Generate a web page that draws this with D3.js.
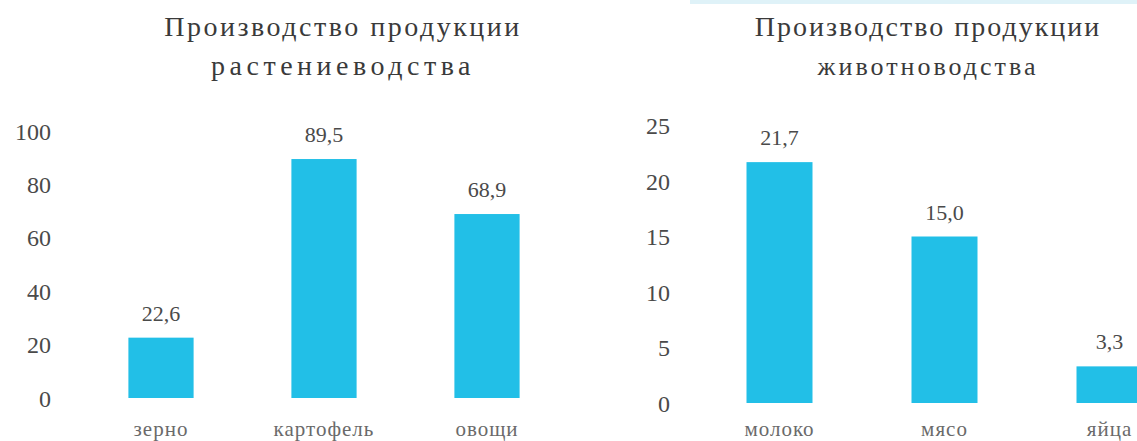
<!DOCTYPE html>
<html lang="ru">
<head>
<meta charset="utf-8">
<title>Производство продукции</title>
<script src="https://cdn.jsdelivr.net/npm/d3@7"></script>
<style>
  body { margin: 0; background: #fff; }
  svg text { font-family: "Liberation Serif", "DejaVu Serif", serif; }
  .title { fill: #3a3a3a; }
  .tick text { fill: #4a4a4a; }
  .value { fill: #4a4a4a; }
  .cat { fill: #6a6a6a; }
</style>
</head>
<body>
<script>
// data
var plantCategories = ["зерно", "картофель", "овощи"];
var plantValues = [22.6, 89.5, 68.9];
var plantTicks = [0, 20, 40, 60, 80, 100];

var animalCategories = ["молоко", "мясо", "яйца"];
var animalValues = [21.7, 15.0, 3.3];
var animalTicks = [0, 5, 10, 15, 20, 25];

var w = 1137, h = 441;
var barColor = "#22bfe7";

var ru = d3.formatLocale({decimal: ",", thousands: " ", grouping: [3], currency: ["", ""]});
var fmt = ru.format(".1f");

var svg = d3.select("body").append("svg")
  .attr("width", w)
  .attr("height", h);

// scan streak at top right
svg.append("rect")
  .attr("x", 690).attr("y", 0)
  .attr("width", w - 690).attr("height", 4)
  .attr("fill", "#dff2f8");

function drawChart(opt) {
  var g = svg.append("g");

  var x = d3.scaleBand()
    .domain(opt.categories)
    .range(opt.xRange)
    .paddingInner(0.6)
    .paddingOuter(0.3);

  var y = d3.scaleLinear()
    .domain([0, opt.yMax])
    .range(opt.yRange);

  // title, two lines
  var t = g.append("text")
    .attr("class", "title")
    .attr("text-anchor", "middle");
  t.append("tspan").attr("x", opt.titleX).attr("y", 36)
    .style("font-size", "28px")
    .style("letter-spacing", opt.title1Spacing)
    .text(opt.title[0]);
  t.append("tspan").attr("x", opt.titleX).attr("y", 75)
    .style("font-size", opt.title2Size)
    .style("letter-spacing", opt.title2Spacing)
    .text(opt.title[1]);

  // y axis
  var yAxis = d3.axisLeft(y)
    .tickValues(opt.ticks)
    .tickSize(0)
    .tickPadding(0)
    .tickFormat(d3.format("d"));

  var ax = g.append("g")
    .attr("transform", "translate(" + opt.axisX + ",0)")
    .call(yAxis);
  ax.select(".domain").remove();
  ax.selectAll("text")
    .style("font-size", "24px")
    .attr("dy", "0.34em");

  // bars
  g.selectAll("rect.bar")
    .data(opt.values)
    .enter()
    .append("rect")
    .attr("class", "bar")
    .attr("x", function(d, i) { return x(opt.categories[i]); })
    .attr("y", function(d) { return y(d); })
    .attr("width", x.bandwidth())
    .attr("height", function(d) { return y(0) - y(d); })
    .attr("fill", barColor);

  // value labels
  g.selectAll("text.value")
    .data(opt.values)
    .enter()
    .append("text")
    .attr("class", "value")
    .attr("text-anchor", "middle")
    .attr("x", function(d, i) { return x(opt.categories[i]) + x.bandwidth() / 2; })
    .attr("y", function(d) { return y(d) - 17; })
    .style("font-size", "22px")
    .text(function(d) { return fmt(d); });

  // category labels
  g.selectAll("text.cat")
    .data(opt.categories)
    .enter()
    .append("text")
    .attr("class", "cat")
    .attr("text-anchor", "middle")
    .attr("x", function(d) { return x(d) + x.bandwidth() / 2; })
    .attr("y", 436)
    .style("font-size", "21px")
    .style("letter-spacing", "1px")
    .text(function(d) { return d; });
}

drawChart({
  categories: plantCategories,
  values: plantValues,
  ticks: plantTicks,
  yMax: 100,
  xRange: [79.5, 568.5],
  yRange: [398, 131],
  axisX: 51,
  titleX: 343,
  title: ["Производство продукции", "растениеводства"],
  title1Spacing: "2.5px",
  title2Size: "28px",
  title2Spacing: "4.5px"
});

drawChart({
  categories: animalCategories,
  values: animalValues,
  ticks: animalTicks,
  yMax: 25,
  xRange: [697, 1192],
  yRange: [403, 125.5],
  axisX: 670,
  titleX: 928,
  title: ["Производство продукции", "животноводства"],
  title1Spacing: "2px",
  title2Size: "26px",
  title2Spacing: "3px"
});
</script>
</body>
</html>
